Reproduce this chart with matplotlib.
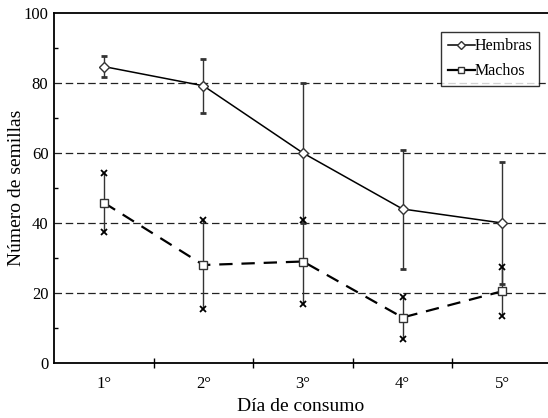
import matplotlib
matplotlib.use("Agg")
import matplotlib.pyplot as plt
import numpy as np
from matplotlib.lines import Line2D

plt.rcParams['font.family'] = ['Liberation Serif', 'DejaVu Serif']

dias = ["1°", "2°", "3°", "4°", "5°"]
hembras = [84.7, 79.2, 60.0, 44.0, 40.0]
hembras_sup = [87.7, 87.0, 80.0, 61.0, 57.5]
hembras_inf = [81.8, 71.4, 40.0, 27.0, 22.5]
machos = [45.8, 28.0, 29.0, 13.0, 20.5]
machos_sup = [54.2, 40.9, 41.0, 19.0, 27.5]
machos_inf = [37.5, 15.5, 17.0, 7.0, 13.3]

fig = plt.figure(figsize=(5.48, 4.18), dpi=100)
ax = fig.add_axes([54/548, 55/418, 1 - 54/548, 350/418])

x = np.arange(1, len(dias) + 1)

# gridlines
for g in [20, 40, 60, 80]:
    ax.axhline(g, color='#222222', lw=0.9, ls=(0, (6, 3)), zorder=1)

# Hembras error bars
h = np.array(hembras)
ax.errorbar(x, h, yerr=[h - np.array(hembras_inf), np.array(hembras_sup) - h],
            fmt='none', ecolor='#333333', elinewidth=1.0, capsize=2.5, capthick=2.0, zorder=2)
# Machos error bars
m = np.array(machos)
ax.errorbar(x, m, yerr=[m - np.array(machos_inf), np.array(machos_sup) - m],
            fmt='none', ecolor='#333333', elinewidth=1.0, capsize=0, zorder=2)
ax.plot(x, machos_sup, ls='none', marker='x', ms=4, mew=1.3, color='black', zorder=3)
ax.plot(x, machos_inf, ls='none', marker='x', ms=4, mew=1.3, color='black', zorder=3)

ax.plot(x, hembras, color='black', lw=1.1, marker='D', ms=5, mfc='white', mec='#333333', mew=1.0,
        zorder=4)
ax.plot(x, machos, color='black', lw=1.6, ls=(0, (6, 4)), marker='s', ms=5.5, mfc='white',
        mec='#333333', mew=1.0, zorder=4)

ax.set_xlim(0.5, 5.46)
ax.set_ylim(0, 100)
ax.set_yticks([0, 20, 40, 60, 80, 100])
ax.set_yticks([10, 30, 50, 70, 90], minor=True)
ax.tick_params(axis='y', which='major', length=0, labelsize=12, pad=4)
ax.tick_params(axis='y', which='minor', direction='in', length=3, width=1)
ax.set_xticks(x)
ax.set_xticklabels(dias)
ax.set_xticks(np.arange(1.5, 5.0, 1.0), minor=True)
ax.tick_params(axis='x', which='major', length=0, labelsize=12, pad=9)
ax.tick_params(axis='x', which='minor', direction='inout', length=7, width=1)

for s in ['left', 'bottom', 'top']:
    ax.spines[s].set_linewidth(1.3)
ax.spines['right'].set_visible(False)

ax.set_xlabel("Día de consumo", fontsize=14, labelpad=5)
ax.set_ylabel("Número de semillas", fontsize=14)
ax.yaxis.set_label_coords((25 - 54) / 494, 0.5)

handles = [
    Line2D([], [], color='black', lw=1.1, marker='D', ms=4.5, mfc='white', mec='#333333'),
    Line2D([], [], color='black', lw=1.6, marker='s', ms=5, mfc='white', mec='#333333'),
]
leg = ax.legend(handles, ["Hembras", "Machos"], loc='upper right',
                bbox_to_anchor=((539 - 54) / 494, (363 - 32) / 350), borderaxespad=0,
                fontsize=11.5, frameon=True, fancybox=False, edgecolor='black',
                handlelength=1.7, handletextpad=0.0, borderpad=0.4, labelspacing=0.55)
leg.get_frame().set_linewidth(1.0)

fig.savefig("out.png", dpi=100)
